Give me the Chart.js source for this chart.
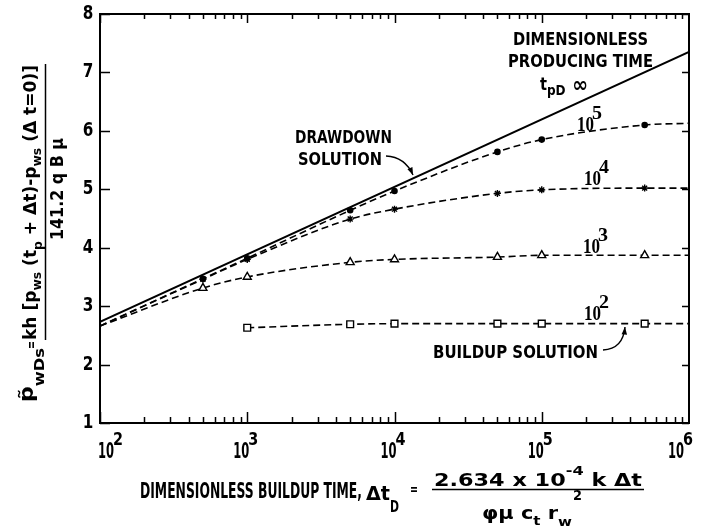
<!DOCTYPE html>
<html lang="en">
<head>
<meta charset="UTF-8">
<title>Buildup vs drawdown solution</title>
<script src="https://cdn.jsdelivr.net/npm/chart.js"></script>
<style>
  html, body { margin: 0; padding: 0; background: #fff; }
  #wrap { width: 707px; height: 527px; position: relative; }
</style>
</head>
<body>
<div id="wrap"><canvas id="chart"></canvas></div>
<script>
// values (x = dimensionless buildup time, y = pWDs)
const xDrawdown = [1e2, 1e6];
const yDrawdown = [2.73, 7.35];

const xTp1e5 = [1e2, 5e2, 1e3, 5e3, 1e4, 5e4, 1e5, 5e5, 1e6];
const yTp1e5 = [2.66, 3.47, 3.82, 4.64, 4.97, 5.64, 5.85, 6.10, 6.13];

const xTp1e4 = [1e2, 5e2, 1e3, 5e3, 1e4, 5e4, 1e5, 5e5, 1e6];
const yTp1e4 = [2.66, 3.46, 3.80, 4.49, 4.66, 4.93, 4.99, 5.02, 5.02];

const xTp1e3 = [1e2, 5e2, 1e3, 5e3, 1e4, 5e4, 1e5, 5e5, 1e6];
const yTp1e3 = [2.66, 3.31, 3.50, 3.75, 3.80, 3.84, 3.87, 3.87, 3.87];

const xTp1e2 = [1e3, 5e3, 1e4, 5e4, 1e5, 5e5, 1e6];
const yTp1e2 = [2.63, 2.69, 2.70, 2.70, 2.70, 2.70, 2.70];

const xDecades = [1e2, 1e3, 1e4, 1e5, 1e6];
const xExponents = ['2', '3', '4', '5', '6'];
const yTicks = [1, 2, 3, 4, 5, 6, 7, 8];

const SANS = '"DejaVu Sans", sans-serif';
const SERIF = '"Liberation Serif", "DejaVu Serif", serif';

function pts(xs, ys) {
    return xs.map((x, i) => ({ x: x, y: ys[i] }));
}

// end points are extrapolated line ends, not plotted markers
function markerRadius(r) {
    return c => (c.raw && (c.raw.x === 1e2 || c.raw.x === 1e6)) ? 0 : r;
}

function curve(xs, ys, style, r, fill) {
    return {
        data: pts(xs, ys),
        borderColor: '#000',
        borderWidth: 1.6,
        borderDash: [7, 4],
        cubicInterpolationMode: 'monotone',
        pointStyle: style,
        pointRadius: markerRadius(r),
        pointBackgroundColor: fill,
        pointBorderColor: '#000',
        pointBorderWidth: 1.4
    };
}

// draw a row of text pieces; each piece: [text, size, baseline offset, family, weight]
function runs(ctx, items, x, y, width) {
    const fontOf = it => (it[4] || 'bold') + ' ' + it[1] + 'px ' + (it[3] || SANS);
    let total = 0;
    items.forEach(it => { ctx.font = fontOf(it); total += ctx.measureText(it[0]).width; });
    const k = width ? width / total : 1;
    ctx.save();
    ctx.translate(x, y);
    ctx.scale(k, 1);
    let u = 0;
    items.forEach(it => {
        ctx.font = fontOf(it);
        ctx.fillText(it[0], u, it[2] || 0);
        u += ctx.measureText(it[0]).width;
    });
    ctx.restore();
}

function vruns(ctx, items, x, y, width) {
    ctx.save();
    ctx.translate(x, y);
    ctx.rotate(-Math.PI / 2);
    runs(ctx, items, 0, 0, width);
    ctx.restore();
}

function arrow(ctx, x0, y0, cx, cy, x1, y1) {
    ctx.beginPath();
    ctx.moveTo(x0, y0);
    ctx.quadraticCurveTo(cx, cy, x1, y1);
    ctx.stroke();
    const a = Math.atan2(y1 - cy, x1 - cx);
    ctx.beginPath();
    ctx.moveTo(x1, y1);
    ctx.lineTo(x1 - 8 * Math.cos(a - 0.35), y1 - 8 * Math.sin(a - 0.35));
    ctx.lineTo(x1 - 8 * Math.cos(a + 0.35), y1 - 8 * Math.sin(a + 0.35));
    ctx.closePath();
    ctx.fill();
}

const framePlugin = {
    id: 'frame',
    afterDraw(chart) {
        const ctx = chart.ctx;
        const a = chart.chartArea;
        const xs = chart.scales.x, ys = chart.scales.y;
        ctx.save();
        ctx.strokeStyle = '#000';
        ctx.fillStyle = '#000';
        ctx.textAlign = 'left';
        ctx.textBaseline = 'alphabetic';

        // box
        ctx.lineWidth = 2;
        ctx.strokeRect(a.left, a.top, a.right - a.left, a.bottom - a.top);

        // log ticks on bottom and top, pointing inward
        ctx.lineWidth = 1.5;
        ctx.beginPath();
        for (let d = 0; d < xDecades.length - 1; d++) {
            for (let m = 1; m <= 9; m++) {
                const v = xDecades[d] * m;
                const px = Math.round(xs.getPixelForValue(v)) + 0.5;
                const major = m === 1;
                ctx.moveTo(px, a.bottom); ctx.lineTo(px, a.bottom - (major ? 11 : 6));
                ctx.moveTo(px, a.top); ctx.lineTo(px, a.top + (major ? 9 : 5));
            }
        }
        yTicks.forEach(t => {
            const py = Math.round(ys.getPixelForValue(t)) + 0.5;
            ctx.moveTo(a.left, py); ctx.lineTo(a.left + 10, py);
            ctx.moveTo(a.right, py); ctx.lineTo(a.right - 7, py);
        });
        ctx.stroke();

        // y tick labels
        ctx.textAlign = 'center';
        ctx.textBaseline = 'middle';
        ctx.font = 'bold 19px ' + SANS;
        yTicks.forEach(t => {
            const py = ys.getPixelForValue(t);
            ctx.save();
            ctx.translate(88, py);
            ctx.scale(0.8, 1);
            ctx.fillText(String(t), 0, 0);
            ctx.restore();
        });
        ctx.textAlign = 'left';
        ctx.textBaseline = 'alphabetic';

        // x tick labels: 10 with raised exponent
        xDecades.forEach((v, i) => {
            const px = xs.getPixelForValue(v);
            let left = px - 14;
            if (i === 0) left = px - 2;
            if (i === xDecades.length - 1) left = px - 21;
            runs(ctx, [['10', 21, 0]], left, 458, 16);
            runs(ctx, [[xExponents[i], 18, 0]], left + 15, 445, 10);
        });

        // x axis title
        runs(ctx, [['DIMENSIONLESS BUILDUP TIME,', 21, 0]], 140, 498, 222);
        runs(ctx, [['\u0394t', 20, 0]], 366, 500, 24);
        runs(ctx, [['D', 15, 0]], 390, 512, 9);
        runs(ctx, [['=', 14, 0]], 410, 494, 8);
        runs(ctx, [['2.634 x 10', 18, 0], ['-4', 13, -11], [' k \u0394t', 18, 0]], 434, 486, 208);
        ctx.lineWidth = 1.5;
        ctx.beginPath(); ctx.moveTo(432, 489.5); ctx.lineTo(644, 489.5); ctx.stroke();
        runs(ctx, [['\u03c6\u03bc c', 18, 0], ['t', 13, 6], [' r', 18, 0], ['w', 13, 7]], 482, 519, 90);
        runs(ctx, [['2', 14, 0]], 573, 500, 9);

        // y axis title (rotated)
        vruns(ctx, [['p\u0303', 19, 0], ['wDs', 14, 11]], 33, 402, 54);
        vruns(ctx, [['=', 14, 0]], 36, 349, 8);
        vruns(ctx, [['kh [p', 18, 0], ['ws', 13, 5], [' (t', 18, 0], ['p', 13, 6], [' + \u0394t)-p', 18, 0],
            ['ws', 13, 5], [' (\u0394 t=0)]', 18, 0]], 36, 340, 275);
        ctx.beginPath(); ctx.moveTo(45.5, 64); ctx.lineTo(45.5, 340); ctx.stroke();
        vruns(ctx, [['141.2 q B \u03bc', 17, 0]], 63, 240, 102);

        // annotations
        runs(ctx, [['DIMENSIONLESS', 17, 0]], 513, 45, 135);
        runs(ctx, [['PRODUCING TIME', 17, 0]], 508, 67, 145);
        runs(ctx, [['t', 17, 0], ['pD', 14, 5], [' \u221e', 22, 2]], 540, 90, 48);
        runs(ctx, [['DRAWDOWN', 18, 0]], 295, 143, 97);
        runs(ctx, [['SOLUTION', 18, 0]], 298, 165, 84);
        runs(ctx, [['BUILDUP SOLUTION', 18, 0]], 433, 358, 165);

        // curve labels 10^n
        const lab = (x, y, e) => {
            runs(ctx, [['10', 21, 0, SERIF]], x, y, 17);
            runs(ctx, [[e, 18, 0, SERIF]], x + 15, y - 12, 10);
        };
        lab(577, 131, '5');
        lab(584, 185, '4');
        lab(583, 253, '3');
        lab(584, 320, '2');

        // pointer arrows
        ctx.lineWidth = 1.4;
        arrow(ctx, 386, 156, 405, 157, 413, 175);
        arrow(ctx, 603, 350, 623, 349, 625, 327);

        ctx.restore();
    }
};

new Chart(document.getElementById('chart'), {
    type: 'line',
    data: {
        datasets: [
            {
                data: pts(xDrawdown, yDrawdown),
                borderColor: '#000',
                borderWidth: 2,
                pointRadius: 0
            },
            curve(xTp1e5, yTp1e5, 'circle', 2.6, '#000'),
            curve(xTp1e4, yTp1e4, 'star', 3.5, '#000'),
            curve(xTp1e3, yTp1e3, 'triangle', 4.6, '#fff'),
            curve(xTp1e2, yTp1e2, 'rect', 4.8, '#fff')
        ]
    },
    options: {
        responsive: true,
        maintainAspectRatio: false,
        animation: false,
        events: [],
        layout: { padding: { left: 100, right: 18, top: 14, bottom: 104 } },
        plugins: { legend: { display: false }, tooltip: { enabled: false } },
        scales: {
            x: { type: 'logarithmic', min: 1e2, max: 1e6, display: false },
            y: { type: 'linear', min: 1, max: 8, display: false }
        }
    },
    plugins: [framePlugin]
});
</script>
</body>
</html>
